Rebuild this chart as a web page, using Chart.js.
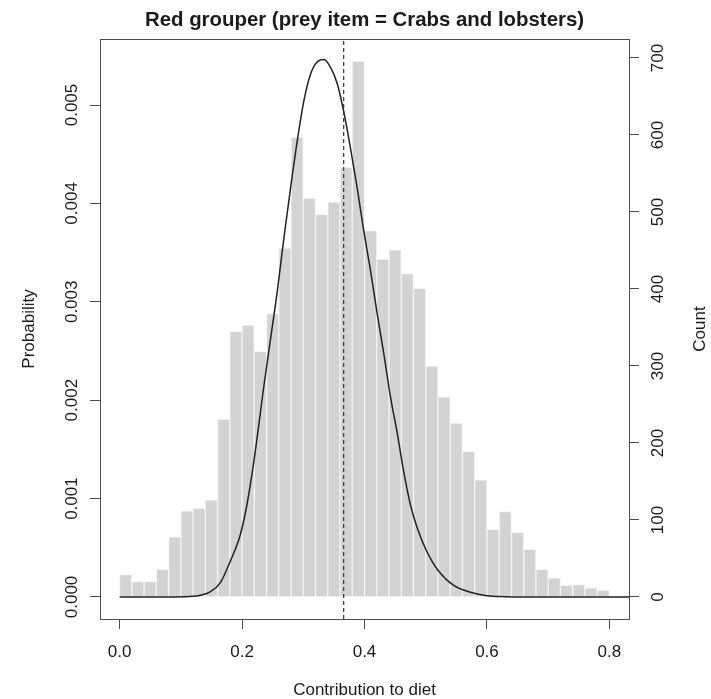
<!DOCTYPE html>
<html>
<head>
<meta charset="utf-8">
<script src="https://cdn.jsdelivr.net/npm/chart.js@4/dist/chart.umd.min.js"></script>
<style>
  html, body { margin: 0; padding: 0; background: #fff; }
  #wrap { width: 711px; height: 699px; }
</style>
</head>
<body>
<div id="wrap"><canvas id="c" width="711" height="699"></canvas></div>
<script>
// histogram bins (mid points, width 0.02) and counts
const binMids = [0.01, 0.03, 0.05, 0.07, 0.09, 0.11, 0.13, 0.15, 0.17, 0.19,
                 0.21, 0.23, 0.25, 0.27, 0.29, 0.31, 0.33, 0.35, 0.37, 0.39,
                 0.41, 0.43, 0.45, 0.47, 0.49, 0.51, 0.53, 0.55, 0.57, 0.59,
                 0.61, 0.63, 0.65, 0.67, 0.69, 0.71, 0.73, 0.75, 0.77, 0.79];
const counts = [29, 20, 20, 36, 78, 112, 115, 126, 231, 345,
                353, 319, 368, 453, 597, 518, 497, 513, 558, 696,
                476, 439, 451, 420, 401, 300, 260, 226, 189, 152,
                88, 111, 84, 62, 36, 25, 15, 16, 12, 9];

// prior curve (probability axis)
const curveX = [0, 0.09, 0.115, 0.1322, 0.1486, 0.1649, 0.1812, 0.1976, 0.2085, 0.2193,
                0.2357, 0.2465, 0.2574, 0.2683, 0.2792, 0.2901, 0.3009, 0.3118, 0.3227, 0.3336,
                0.3445, 0.3554, 0.3662, 0.3771, 0.3881, 0.3989, 0.4098, 0.4207, 0.4315, 0.4424,
                0.4534, 0.4642, 0.4751, 0.486, 0.5024, 0.5187, 0.5458, 0.5731, 0.6, 0.63, 0.66, 0.84];
const curveY = [0, 0, 0.000005, 0.000018, 0.000055, 0.000149, 0.000368, 0.000642, 0.000955, 0.001377,
                0.002144, 0.002621, 0.003099, 0.003646, 0.004155, 0.004632, 0.005039, 0.005313, 0.005438, 0.005462,
                0.005383, 0.005219, 0.00493, 0.004562, 0.004155, 0.003717, 0.003318, 0.002879, 0.002473, 0.002034,
                0.001667, 0.001268, 0.000935, 0.000704, 0.000454, 0.000282, 0.000117, 0.000047, 0.000012, 0.000003, 0, 0];

// dashed vertical reference line
const meanLine = 0.366;

const xTicks = [0, 0.2, 0.4, 0.6, 0.8];
const probTicks = [0, 0.001, 0.002, 0.003, 0.004, 0.005];
const countTicks = [0, 100, 200, 300, 400, 500, 600, 700];

const xMin = -0.032, xMax = 0.832;
const probMin = -0.000224, probMax = 0.005671;
const countMin = -28.6, countMax = 724.7;

const FONT = "'Liberation Sans', Arial, Helvetica, sans-serif";
const AXIS = '#4d4d4d';
const TEXT = '#1a1a1a';

Chart.defaults.font.family = FONT;
Chart.defaults.font.size = 17;
Chart.defaults.color = TEXT;

// plot frame + right-side axis title (reads bottom to top like R)
const framePlugin = {
  id: 'frame',
  afterDraw(chart) {
    const { ctx, chartArea: a } = chart;
    ctx.save();
    ctx.strokeStyle = AXIS;
    ctx.lineWidth = 1;
    ctx.strokeRect(Math.round(a.left) + 0.5, Math.round(a.top) + 0.5,
                   Math.round(a.right - a.left), Math.round(a.bottom - a.top));
    ctx.translate(700, (a.top + a.bottom) / 2);
    ctx.rotate(-Math.PI / 2);
    ctx.fillStyle = TEXT;
    ctx.font = '17px ' + FONT;
    ctx.textAlign = 'center';
    ctx.textBaseline = 'middle';
    ctx.fillText('Count', 0, 0);
    ctx.restore();
  }
};

const tickGrid = { drawOnChartArea: false, drawTicks: true, tickLength: 10, tickColor: AXIS, tickWidth: 1 };

new Chart(document.getElementById('c'), {
  type: 'bar',
  data: {
    datasets: [
      {
        type: 'line',
        data: [{ x: meanLine, y: probMin }, { x: meanLine, y: probMax }],
        yAxisID: 'yProb',
        borderColor: '#333',
        borderWidth: 1.2,
        borderDash: [4, 3],
        pointRadius: 0,
        order: 1
      },
      {
        type: 'line',
        data: curveX.map((x, i) => ({ x, y: curveY[i] })),
        yAxisID: 'yProb',
        borderColor: '#222',
        borderWidth: 1.5,
        pointRadius: 0,
        cubicInterpolationMode: 'monotone',
        order: 2
      },
      {
        type: 'bar',
        data: binMids.map((x, i) => ({ x, y: counts[i] })),
        yAxisID: 'yCount',
        backgroundColor: '#d3d3d3',
        borderColor: '#f4f4f4',
        borderWidth: 1,
        barPercentage: 1,
        categoryPercentage: 1,
        order: 3
      }
    ]
  },
  options: {
    responsive: false,
    animation: false,
    devicePixelRatio: 1,
    layout: { padding: 0 },
    plugins: {
      legend: { display: false },
      tooltip: { enabled: false },
      title: {
        display: true,
        fullSize: false,
        text: 'Red grouper (prey item = Crabs and lobsters)',
        color: TEXT,
        font: { size: 20.4, weight: 'bold', lineHeight: 1.2 },
        padding: { top: 8, bottom: 6.5 }
      }
    },
    scales: {
      x: {
        type: 'linear',
        position: 'bottom',
        min: xMin, max: xMax,
        offset: false,
        grid: { ...tickGrid, offset: false },
        border: { display: false },
        afterBuildTicks: s => { s.ticks = xTicks.map(v => ({ value: v })); },
        afterFit: s => { s.height = 80; },
        ticks: { autoSkip: false, maxRotation: 0, padding: 13, callback: v => v.toFixed(1) },
        title: { display: true, text: 'Contribution to diet', font: { size: 17, lineHeight: 1 }, padding: { top: 0, bottom: 0 } }
      },
      yProb: {
        type: 'linear',
        position: 'left',
        min: probMin, max: probMax,
        grid: tickGrid,
        border: { display: false },
        afterBuildTicks: s => { s.ticks = probTicks.map(v => ({ value: v })); },
        afterFit: s => { s.width = 100; },
        ticks: { autoSkip: false, minRotation: 90, maxRotation: 90, crossAlign: 'center', padding: -3.2,
                 callback: v => v.toFixed(3) },
        title: { display: true, text: 'Probability', font: { size: 17, lineHeight: 1.2 }, padding: { top: 18.8, bottom: 0 } }
      },
      yCount: {
        type: 'linear',
        position: 'right',
        min: countMin, max: countMax,
        grid: tickGrid,
        border: { display: false },
        afterBuildTicks: s => { s.ticks = countTicks.map(v => ({ value: v })); },
        afterFit: s => { s.width = 82; },
        ticks: { autoSkip: false, minRotation: 90, maxRotation: 90, crossAlign: 'center', padding: 4.8,
                 callback: v => String(v) }
      }
    }
  },
  plugins: [framePlugin]
});
</script>
</body>
</html>
